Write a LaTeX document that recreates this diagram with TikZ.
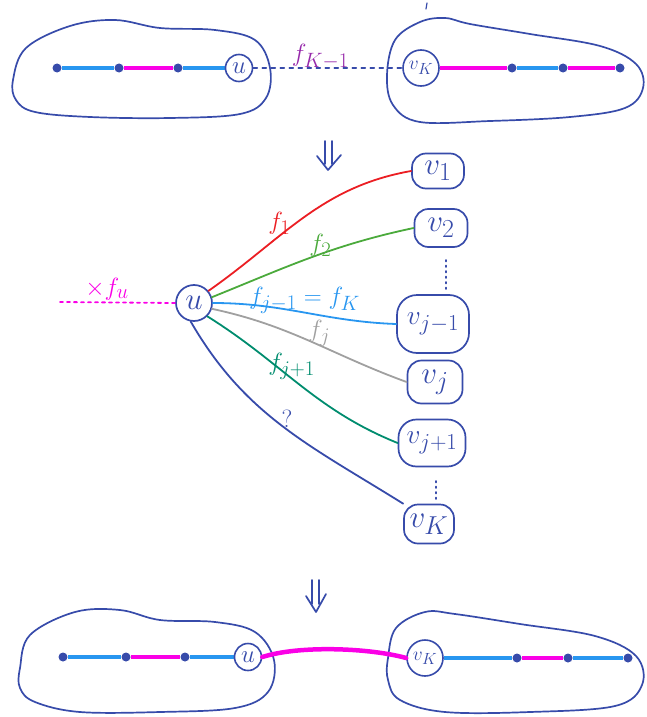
\documentclass[tikz,border=0pt]{standalone}
\usetikzlibrary{calc}
\definecolor{ink}{RGB}{55,75,170}
\definecolor{lblue}{RGB}{40,150,240}
\definecolor{mag}{RGB}{250,0,230}
\definecolor{fred}{RGB}{235,30,35}
\definecolor{fgreen}{RGB}{75,170,60}
\definecolor{fgray}{RGB}{160,160,160}
\definecolor{fteal}{RGB}{0,140,110}
\definecolor{fpurple}{RGB}{150,40,170}
\newcommand{\vtxt}[1]{\scalebox{1.25}{$#1$}}
\newcommand{\vtxs}[1]{\scalebox{1.1}{$#1$}}
\pgfdeclarelayer{bg}
\pgfsetlayers{bg,main}
\begin{document}
\begin{tikzpicture}[x=1pt,y=-1pt,line cap=round,line join=round,
  blob/.style={draw=ink,line width=1.7pt},
  dotv/.style={circle,fill=ink,inner sep=0pt,minimum size=9pt},
  ucirc/.style={circle,draw=ink,line width=1.6pt,inner sep=0pt,minimum size=27pt,text=ink,font=\Huge},
  vbox/.style={draw=ink,line width=1.7pt,rounded corners=14pt,text=ink,font=\Huge,inner sep=2pt},
  chainb/.style={draw=lblue,line width=4.5pt},
  chainm/.style={draw=mag,line width=4.5pt},
  fedge/.style={line width=1.8pt},
  lab/.style={font=\Huge,inner sep=1pt},
  darr/.style={draw=ink,line width=1.7pt}]
\useasboundingbox (0,0) rectangle (646,717);

% ---------- top ----------
\draw[blob] plot[smooth cycle,tension=0.6] coordinates {(13,80) (26,48) (70,26) (115,20) (160,28) (215,30) (255,40) (270,68) (266,98) (240,114) (170,118) (90,117) (35,112) (16,100)};
\draw[blob] plot[smooth cycle,tension=0.6] coordinates {(387,75) (395,40) (420,22) (445,18) (470,24) (530,34) (600,46) (636,64) (643,88) (625,108) (570,117) (490,121) (420,122) (393,105)};
\draw[ink,line width=1.2pt] (427,3) -- (426,9);

\node[dotv] (a1) at (57,68) {};
\node[dotv] (a2) at (119,68) {};
\node[dotv] (a3) at (178,68) {};
\node[ucirc] (u1) at (239,68) {$u$};
\node[ucirc,minimum size=36pt] (w1) at (421,68) {\scalebox{0.78}{$v_K$}};
\node[dotv] (b1) at (512,68) {};
\node[dotv] (b2) at (563,68) {};
\node[dotv] (b3) at (620,68) {};
\begin{pgfonlayer}{bg}
\draw[chainb] (a1) -- (a2);
\draw[chainm] (a2) -- (a3);
\draw[chainb] (a3) -- (u1);
\draw[chainm] (w1) -- (b1);
\draw[chainb] (b1) -- (b2);
\draw[chainm] (b2) -- (b3);
\end{pgfonlayer}
\draw[ink,line width=1.6pt,dash pattern=on 4pt off 5pt] (u1) -- (w1) node[pos=0.45,lab,text=fpurple,above=-3pt] {$f_{K-1}$};

% down arrow 1
\draw[darr] (325,141) -- (325,164);
\draw[darr] (332,141) -- (332,164);
\draw[darr] (317,156) -- (328,170) -- (341,155);

% ---------- middle ----------
\node[circle,draw=ink,line width=1.7pt,minimum size=36pt,inner sep=0pt,text=ink,font=\Huge] (u) at (194,303) {\vtxt{u}};
\node[vbox,minimum width=52pt,minimum height=35pt] (v1) at (438,171) {\vtxt{v_1}};
\node[vbox,minimum width=53pt,minimum height=38pt] (v2) at (441,228) {\vtxt{v_2}};
\node[vbox,minimum width=72pt,minimum height=58pt,rounded corners=20pt] (vjm) at (433,324) {\vtxs{v_{j-1}}};
\node[vbox,minimum width=55pt,minimum height=43pt] (vj) at (435,382) {\vtxt{v_j}};
\node[vbox,minimum width=67pt,minimum height=47pt,rounded corners=18pt] (vjp) at (432,443) {\vtxs{v_{j+1}}};
\node[vbox,minimum width=50pt,minimum height=39pt] (vK) at (429,524) {\vtxt{v_K}};

\coordinate (xs) at (60,302);
\draw[mag,line width=1.8pt,dash pattern=on 3pt off 4pt] (xs) -- (u.west);
\node[lab,text=mag] (xl) at (107,289) {$\times f_u$};

\coordinate (d1s) at (446,260);
\coordinate (d1e) at (446,290);
\draw[ink,line width=1.6pt,dash pattern=on 1.5pt off 4pt] (d1s) -- (d1e);
\coordinate (d2s) at (436,481);
\coordinate (d2e) at (436,502);
\draw[ink,line width=1.6pt,dash pattern=on 1.5pt off 4pt] (d2s) -- (d2e);

\draw[fedge,fred] (u.40) to[out=35,in=190] node[lab,pos=0.4,above left=-6pt] {$f_1$} (v1.west);
\draw[fedge,fgreen] (u.18) to[out=22,in=192] node[lab,pos=0.55,above=-4pt] {$f_2$} (v2.west);
\draw[fedge,lblue] (u.east) to[out=0,in=178] node[lab,pos=0.5,above=-3pt] {$f_{j-1}=f_K$} (vjm.west);
\draw[fedge,fgray] (u.-18) to[out=-12,in=160] node[lab,pos=0.55,above=-3pt] {$f_j$} (vj.west);
\draw[fedge,fteal] (u.-45) to[out=-32,in=158] node[lab,pos=0.45,above=-3pt] {$f_{j+1}$} (vjp.west);
\draw[fedge,ink] (u.-100) to[out=-60,in=148] node[lab,pos=0.5,above right=-3pt] {?} (vK.north west);

% down arrow 2
\draw[darr] (312,580) -- (312,604);
\draw[darr] (319,580) -- (319,604);
\draw[darr] (306,596) -- (316,612) -- (326,594);

% ---------- bottom ----------
\draw[blob] plot[smooth cycle,tension=0.6] coordinates {(20,668) (30,635) (75,612) (120,610) (160,620) (215,622) (255,632) (274,660) (268,692) (235,708) (160,712) (80,712) (35,702) (20,688)};
\draw[blob] plot[smooth cycle,tension=0.6] coordinates {(388,658) (396,628) (425,612) (455,614) (520,624) (595,636) (636,656) (642,685) (615,706) (530,712) (445,712) (400,700) (388,680)};

\node[dotv] (c1) at (63,657) {};
\node[dotv] (c2) at (126,657) {};
\node[dotv] (c3) at (185,657) {};
\node[ucirc] (u2) at (248,657) {$u$};
\node[ucirc,minimum size=36pt] (w2) at (425,658) {\scalebox{0.78}{$v_K$}};
\node[dotv] (e1) at (517,658) {};
\node[dotv] (e2) at (568,658) {};
\node[dotv] (e3) at (628,658) {};
\begin{pgfonlayer}{bg}
\draw[chainb] (c1) -- (c2);
\draw[chainm] (c2) -- (c3);
\draw[chainb] (c3) -- (u2);
\draw[chainb] (w2) -- (e1);
\draw[chainm] (e1) -- (e2);
\draw[chainb] (e2) -- (e3);
\end{pgfonlayer}
\draw[mag,line width=4.5pt] (u2.east) .. controls (300,645) and (370,648) .. (w2.west);
\end{tikzpicture}
\end{document}
